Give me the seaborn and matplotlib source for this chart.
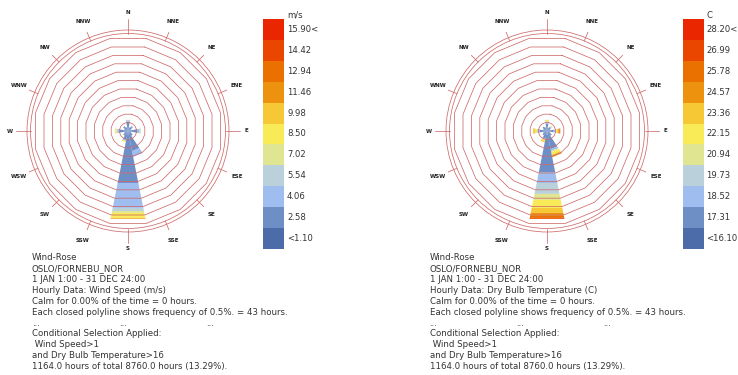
import numpy as np
import matplotlib
matplotlib.use("Agg")
import matplotlib.pyplot as plt
import seaborn as sns
from matplotlib.patches import Polygon, Circle

# compass directions, clockwise from north
directions = ["N", "NNE", "NE", "ENE", "E", "ESE", "SE", "SSE",
              "S", "SSW", "SW", "WSW", "W", "WNW", "NW", "NNW"]

# ladybug base legend colours
base_colors = ["#4b6ba9", "#7393ca", "#aac8f7", "#c1d5d0", "#f5ef67",
               "#fce64a", "#ef9c15", "#ea7b00", "#ea4a00", "#ea2600"]

speed_labels = ["<1.10", "2.58", "4.06", "5.54", "7.02", "8.50",
                "9.98", "11.46", "12.94", "14.42", "15.90<"]
temp_labels = ["<16.10", "17.31", "18.52", "19.73", "20.94", "22.15",
               "23.36", "24.57", "25.78", "26.99", "28.20<"]

# hours in each legend bin (low -> high), one row per direction
speed_hours = [
    [0, 48, 8, 0, 2, 0, 0, 0, 0, 0, 0],      # N
    [0, 20, 0, 0, 0, 0, 0, 0, 0, 0, 0],      # NNE
    [0, 28, 5, 0, 0, 0, 0, 0, 0, 0, 0],      # NE
    [0, 18, 0, 0, 0, 0, 0, 0, 0, 0, 0],      # ENE
    [0, 50, 10, 5, 3, 0, 0, 0, 0, 0, 0],     # E
    [0, 18, 0, 0, 0, 0, 0, 0, 0, 0, 0],      # ESE
    [0, 30, 0, 0, 0, 0, 0, 0, 0, 0, 0],      # SE
    [0, 105, 30, 0, 0, 0, 0, 0, 0, 0, 0],    # SSE
    [0, 271, 130, 16, 10, 26, 3, 3, 0, 0, 0],  # S
    [0, 45, 8, 0, 0, 6, 0, 0, 0, 0, 0],      # SSW
    [0, 30, 0, 0, 0, 0, 0, 0, 0, 0, 0],      # SW
    [0, 20, 0, 0, 0, 0, 0, 0, 0, 0, 0],      # WSW
    [0, 45, 10, 3, 8, 3, 0, 0, 0, 0, 0],     # W
    [0, 20, 0, 0, 0, 0, 0, 0, 0, 0, 0],      # WNW
    [0, 30, 0, 0, 0, 0, 0, 0, 0, 0, 0],      # NW
    [0, 20, 0, 0, 0, 0, 0, 0, 0, 0, 0],      # NNW
]

temp_hours = [
    [0, 38, 8, 4, 0, 6, 2, 0, 0, 0, 0],      # N
    [0, 18, 0, 0, 4, 0, 0, 0, 0, 0, 0],      # NNE
    [0, 24, 5, 0, 4, 0, 0, 0, 0, 0, 0],      # NE
    [0, 18, 0, 0, 0, 0, 0, 0, 0, 0, 0],      # ENE
    [0, 35, 8, 4, 0, 6, 6, 4, 3, 3, 0],      # E
    [0, 18, 0, 0, 0, 0, 0, 0, 0, 0, 0],      # ESE
    [0, 30, 0, 0, 0, 0, 0, 0, 0, 0, 0],      # SE
    [0, 95, 10, 0, 6, 12, 8, 6, 0, 0, 0],    # SSE
    [0, 214, 57, 57, 31, 42, 26, 16, 10, 5, 0],  # S
    [0, 40, 6, 0, 0, 8, 6, 0, 0, 0, 0],      # SSW
    [0, 28, 0, 0, 0, 0, 0, 0, 0, 0, 0],      # SW
    [0, 20, 0, 0, 0, 0, 0, 0, 0, 0, 0],      # WSW
    [0, 40, 8, 4, 0, 10, 10, 0, 0, 0, 0],    # W
    [0, 20, 0, 0, 0, 0, 0, 0, 0, 0, 0],      # WNW
    [0, 28, 0, 0, 0, 0, 0, 0, 0, 0, 0],      # NW
    [0, 20, 0, 0, 0, 0, 0, 0, 0, 0, 0],      # NNW
]

speed_text = [
    "Wind-Rose",
    "OSLO/FORNEBU_NOR",
    "1 JAN 1:00 - 31 DEC 24:00",
    "Hourly Data: Wind Speed (m/s)",
    "Calm for 0.00% of the time = 0 hours.",
    "Each closed polyline shows frequency of 0.5%. = 43 hours.",
    "...",
    "Conditional Selection Applied:",
    " Wind Speed>1",
    "and Dry Bulb Temperature>16",
    "1164.0 hours of total 8760.0 hours (13.29%).",
]
temp_text = list(speed_text)
temp_text[3] = "Hourly Data: Dry Bulb Temperature (C)"

ring_hours = 43.8
n_rings = 11

sns.set_style("white")
plt.rcParams["font.family"] = ["DejaVu Sans"]

legend_colors = sns.blend_palette(base_colors, n_colors=11)
ring_color = "#cf6a6a"
text_color = "#333333"

fig = plt.figure(figsize=(7.38, 3.75), dpi=100)
ax = fig.add_axes([0, 0, 1, 1])
ax.set_xlim(0, 738)
ax.set_ylim(375, 0)
ax.set_aspect("equal")
ax.axis("off")

half = np.radians(11.25)
unit = 8.4  # px per ring


def pt(cx, cy, ang, dist):
    return cx + dist * np.sin(ang), cy - dist * np.cos(ang)


def draw_rose(cx, cy, hours):
    # petals
    for j, row in enumerate(hours):
        th = np.radians(22.5 * j)
        a0 = 0.0
        for b, h in enumerate(row):
            if h <= 0:
                continue
            a1 = a0 + h / ring_hours * unit
            d0, d1 = a0 / np.cos(half), a1 / np.cos(half)
            poly = [pt(cx, cy, th - half, d0), pt(cx, cy, th + half, d0),
                    pt(cx, cy, th + half, d1), pt(cx, cy, th - half, d1)]
            ax.add_patch(Polygon(poly, closed=True, facecolor=legend_colors[b],
                                 edgecolor="none", zorder=2))
            a0 = a1
    # frequency polylines
    angs = np.radians(11.25 + 22.5 * np.arange(17))
    for k in range(1, n_rings + 1):
        d = k * unit / np.cos(half)
        xs, ys = pt(cx, cy, angs, d)
        ax.plot(xs, ys, color=ring_color, lw=0.55, zorder=3)
    # compass
    for r in (97.5, 101):
        ax.add_patch(Circle((cx, cy), r, fill=False, edgecolor=ring_color,
                            lw=0.55, zorder=3))
    for j, name in enumerate(directions):
        th = np.radians(22.5 * j)
        r_out = 112 if j % 4 == 0 else 107
        x0, y0 = pt(cx, cy, th, 97.5)
        x1, y1 = pt(cx, cy, th, r_out)
        ax.plot([x0, x1], [y0, y1], color=ring_color, lw=0.55, zorder=3)
        lx, ly = pt(cx, cy, th, 118)
        ax.text(lx, ly, name, fontsize=4, fontweight="bold", ha="center",
                va="center", color="#222222")


def draw_legend(x, labels, title):
    top, h, w = 19, 20.9, 21
    for i, lab in enumerate(labels):
        y = top + (10 - i) * h
        ax.add_patch(plt.Rectangle((x, y), w, h, facecolor=legend_colors[i],
                                   edgecolor="none", zorder=2))
        ax.text(x + w + 3, y + h / 2, lab, fontsize=6.1, ha="left",
                va="center", color=text_color)
    ax.text(x + w + 3, top - 4, title, fontsize=6.1, ha="left",
            va="center", color=text_color)


def draw_text(x, lines):
    for i, line in enumerate(lines):
        y = 257.3 + i * 10.95
        if line == "...":
            for dx in (0, 87, 174):
                ax.text(x + dx, y, "...", fontsize=6.2, ha="left",
                        va="center", color=text_color)
        else:
            ax.text(x, y, line, fontsize=6.2, ha="left", va="center",
                    color=text_color)


draw_rose(128, 131, speed_hours)
draw_legend(263, speed_labels, "m/s")
draw_text(32, speed_text)

draw_rose(547, 131, temp_hours)
draw_legend(682.5, temp_labels, "C")
draw_text(429.5, temp_text)

fig.savefig("out.png", dpi=100)
